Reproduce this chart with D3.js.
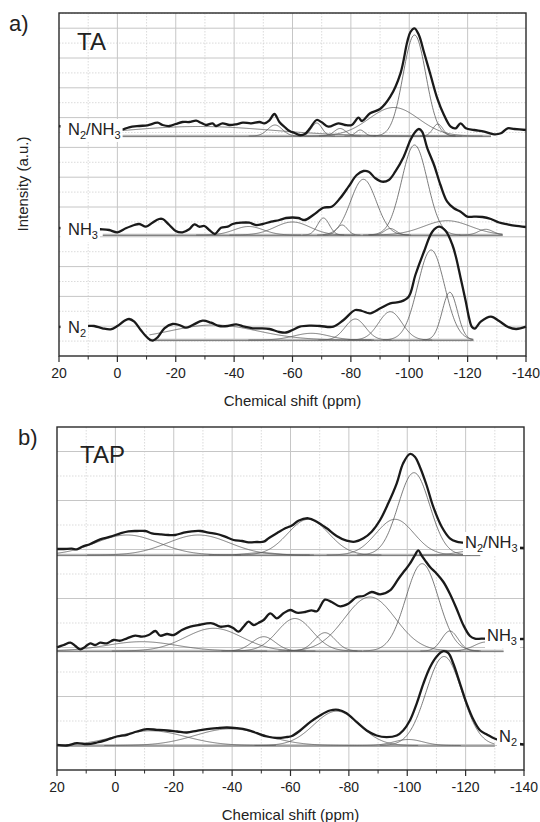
<!DOCTYPE html>
<html>
<head>
<meta charset="utf-8">
<script src="https://cdn.jsdelivr.net/npm/d3@7"></script>
<style>
  body { margin: 0; background: #fff; }
  svg text { font-family: "Liberation Sans", Arial, sans-serif; fill: #222; }
</style>
</head>
<body>
<div id="chart"></div>
<script>
// ---- measured spectra, [chemical shift (ppm), intensity (a.u.)] above each baseline
const taN2NH3Exp = [[20,10],[16,8],[12,7],[8,7],[4,7],[0,7],[-2,6.7],[-4,8.7],[-7.5,10],[-10.3,10.7],[-13.8,13.3],[-15.5,11],[-17.8,10],[-20,12],[-22.3,14],[-24.6,14],[-27,15.3],[-28.6,13.3],[-30.4,11],[-32.6,12.7],[-33.8,10],[-36,12.7],[-38.4,11],[-40.7,11.7],[-43,13.3],[-45.8,12.7],[-48.7,14],[-50.4,12.7],[-52,15.3],[-53.8,22],[-55.5,14],[-57.3,9],[-59,5],[-60.7,3],[-62.5,1],[-64.2,2],[-66,7.7],[-68.3,16],[-70,13.7],[-72.3,9.3],[-75.7,12.7],[-78,11],[-80.3,11],[-82.6,18.3],[-83.8,15],[-86.6,22.7],[-90,27],[-93.5,39.3],[-97,62.7],[-99.3,94],[-100.4,104],[-101.8,107.7],[-103.3,101],[-105,84.3],[-107.3,61],[-109.6,37.7],[-111.9,21],[-114.2,9.3],[-115.9,7.7],[-117.6,12.7],[-119.4,7.7],[-122.2,6],[-125.7,4.3],[-129.1,1.7],[-131.4,2.7],[-133.7,7.7],[-136,7],[-140,6]];
const taNH3Exp = [[20,7],[15,6],[10,5.5],[5.1,5.7],[2.8,5],[0,2.7],[-2.9,6.7],[-5.8,10],[-7.5,11],[-9.8,8.3],[-12,12.3],[-14.3,16],[-15.5,16],[-17.8,10],[-20,4],[-22.3,2.7],[-24.6,5.7],[-26.4,10.7],[-28,8.3],[-29.8,9],[-31.5,5],[-33.4,1],[-35.5,7.3],[-37.8,8.3],[-39.5,11],[-42.4,12.3],[-45.2,12.3],[-47.5,10],[-49.8,11],[-52.7,13.3],[-55.5,15],[-57.8,17],[-60.1,17.5],[-62,17],[-64.2,15],[-67.1,20],[-70.6,27.3],[-73.4,28.3],[-76.3,36.7],[-79.2,48.3],[-82,60],[-84.3,64],[-86.1,63.3],[-88.4,56.7],[-90.7,53.3],[-93,55],[-95.2,63.3],[-98.1,78.3],[-100.4,95],[-102.1,103.3],[-103.3,106],[-104.4,103.3],[-106.2,86.7],[-108.5,70],[-110.7,50],[-113,33.3],[-115.3,26.7],[-117.6,23.3],[-119.9,18.3],[-122.2,18.3],[-125.1,18],[-128,16],[-130.8,12.5],[-133.7,10.7],[-136,9.3],[-140,8]];
const taN2Exp = [[20,13],[15,14],[10.3,14],[8,14],[5.1,11.7],[2.3,10.7],[0,14],[-2.3,19],[-4,21],[-5.8,18.3],[-8,10],[-10.3,2.3],[-12,-0.7],[-13.8,2.7],[-16.1,11.7],[-18.9,16],[-21.2,15],[-23.5,12.3],[-25.8,15],[-29.2,19.3],[-32.1,17.3],[-34.9,14],[-37.8,14],[-40.7,15.7],[-43.5,13.3],[-46.4,11.7],[-49.2,11.7],[-52.1,11],[-55.5,8],[-57.8,7.5],[-60,10],[-62.5,13.3],[-66,14.3],[-69.4,14],[-74,13.3],[-77.5,20],[-81.5,30],[-83.8,29],[-86.6,26.7],[-90.1,31.7],[-93.5,36.7],[-97,38.3],[-99.8,43.3],[-102.1,65],[-105,88],[-107.9,108.3],[-110.2,113.3],[-112.5,109],[-114.8,95],[-116,83],[-117.6,62],[-119.4,38],[-120.5,22],[-121.5,13],[-122.5,11.5],[-124.5,18.3],[-128,23.3],[-130.8,19],[-133.7,13.3],[-136.6,11],[-140,13.3]];

const tapN2NH3Exp = [[20,6],[17.7,6],[14.9,6.3],[13.2,5.7],[11.4,8.3],[8.6,11],[5.2,15.7],[1.7,18.3],[-1.7,21.7],[-4.5,23.7],[-7.4,24],[-10.3,24],[-12.5,21.7],[-15.4,20.7],[-18.2,20],[-20.5,20],[-23.4,22.3],[-26.2,23.7],[-29.1,24],[-31.9,22.3],[-34.8,21],[-37.6,18.3],[-40.5,15],[-43.4,14],[-45.6,12.7],[-48.5,13],[-50.8,13.3],[-52.5,16.7],[-55.3,21.7],[-58.2,26.7],[-60.5,29.5],[-62.7,34.3],[-66.1,36.7],[-69,33.3],[-72.4,26.7],[-75.8,19],[-79.2,14.3],[-82.1,13.3],[-85,16.7],[-87.8,23.3],[-90.7,35],[-93.5,51.7],[-96.4,71.7],[-98.6,91.7],[-100.9,101],[-102.6,98.3],[-104.3,88.3],[-106.6,70],[-108.9,48.3],[-111.8,28.3],[-114.6,16.7],[-116.9,13.3],[-119.2,12.3],[-125,10],[-132,8],[-140,7]];
const tapNH3Exp = [[20,3.7],[17.7,6],[15.4,8.3],[13.7,5],[12,1.7],[10.3,4.3],[8.6,7.7],[6.9,6],[5.2,8.3],[2.9,7.7],[0.6,11],[-1.7,10.3],[-4,12.7],[-6.8,15.3],[-9.1,14.3],[-11.4,16],[-13.7,20],[-15.4,15.3],[-17.7,17],[-20,16],[-22.8,21],[-25.7,24.3],[-28.5,26],[-33.1,27.7],[-35.9,24.3],[-38.8,25],[-40.5,22.7],[-42.2,19.3],[-43.9,24.3],[-45.6,29.3],[-47.4,26],[-49.1,28.3],[-50.8,31],[-53.1,37.7],[-55.3,32.7],[-57.6,37.7],[-59.9,41],[-62.1,38.3],[-65,39],[-67.2,40.7],[-69,39.7],[-71.8,51.3],[-74.1,49],[-77,44.7],[-79.8,47.3],[-82.7,54],[-85,55],[-87.8,59],[-90.7,56.7],[-94.1,60.7],[-97,72.3],[-99.2,80.7],[-100.9,87.3],[-102.6,95.7],[-103.8,100.7],[-104.9,95.7],[-106.1,90.7],[-107.8,84],[-110.1,77.3],[-112.4,69],[-114.6,57.3],[-116.9,42.3],[-119.2,26],[-121.5,15],[-123.2,12.3],[-125.5,12.3],[-132,12],[-140,12]];
const tapN2Exp = [[20,0.7],[16.6,0],[13.2,2.3],[9.7,1.3],[6.3,3],[2.9,5.7],[-0.5,9],[-4,10.7],[-7.4,14],[-10.8,16.3],[-14.2,15.7],[-17.7,15],[-21.1,14],[-24.5,13],[-27.9,14.7],[-31.4,16.3],[-34.8,17.3],[-38.2,18],[-41.6,17.3],[-45.1,15.7],[-48.5,12.3],[-51.9,9],[-55.3,7.5],[-58.8,8.5],[-60.5,9.5],[-63.3,15],[-66.7,23.3],[-70.1,30],[-73.5,35],[-76.4,35.7],[-79.2,32.3],[-82.7,23.3],[-86.1,15],[-89.5,10],[-92.9,8.3],[-96.4,10],[-98.6,15],[-100.9,25],[-103.2,41.7],[-105.5,61.7],[-107.8,78.3],[-110.1,89],[-112.4,94.3],[-114.1,92.3],[-115.8,81.7],[-118.1,61.7],[-120.4,41.7],[-122.7,25.7],[-125,15],[-127.3,11],[-130.1,6.7],[-135,3],[-140,1]];

// ---- fitted components, [centre (ppm), height (a.u.), sigma (ppm)]
const taN2NH3Fit = [[-28,9.5,25],[-54,11,2.5],[-68.3,13,1.8],[-76.3,7.5,2],[-83.2,6,1.5],[-94.7,28.5,8.5],[-101.8,101,3.9],[-109.8,12,1.7]];
const taNH3Fit = [[-45,8.5,5],[-60,13,6],[-70.6,17,2],[-77,10,1.8],[-84.3,55.7,4.4],[-93.5,6.5,2],[-101.8,90,4.4],[-113,14.3,8],[-126.2,5.7,2.5]];
const taN2Fit = [[-33,15,15],[-66.5,6.7,6],[-81.5,21,3.5],[-93.5,28.3,4],[-107.5,90,4.6],[-113.9,47.7,2.6]];
const tapN2NH3Fit = [[-4,20,10.9],[-28.5,20,10.6],[-50,2.3,5],[-66.1,35.7,7],[-95.8,35.7,6.5],[-102.3,82.3,5.4],[-122,4,5]];
const tapNH3Fit = [[-9,9.3,12],[-33.7,22.7,9.7],[-50.8,14.3,4],[-61.5,32.5,6],[-71.8,18.3,3.6],[-87.2,54,8.7],[-105.1,87.3,5.6],[-114.6,20,2.8],[-127,9,4]];
const tapN2Fit = [[-12,14.7,12],[-39.4,16.7,12],[-75.8,34.3,7.8],[-100.4,6,5],[-112.6,89,6.1]];

// ---- fit range (ppm) of each baseline
const taRanges = [[0,-128],[5,-132],[-11,-122]];
const tapRanges = [[20,-125],[20,-133],[20,-130]];

// ---- labels / ticks
const xTicks = [20, 0, -20, -40, -60, -80, -100, -120, -140];
const seriesLabels = [["N", "2", "/NH", "3"], ["NH", "3"], ["N", "2"]];
const panelTitles = ["TA", "TAP"];
const panelLetters = ["a)", "b)"];

const W = 540, H = 822;
const svg = d3.select("#chart").append("svg").attr("width", W).attr("height", H);

function gauss(p, ppm) {
  const [c, h, s] = p;
  return h * Math.exp(-((ppm - c) ** 2) / (2 * s * s));
}

function drawPanel(cfg) {
  const x = d3.scaleLinear().domain([20, -140]).range([cfg.left, cfg.right]);
  const y = d3.scaleLinear().domain([0, cfg.bottom - cfg.top]).range([cfg.bottom, cfg.top]);
  const g = svg.append("g");

  // grid
  const vminor = d3.range(-130, 20, 20), vmajor = d3.range(-120, 20, 20);
  g.selectAll(".vmin").data(vminor).join("line")
    .attr("x1", d => x(d)).attr("x2", d => x(d)).attr("y1", cfg.top).attr("y2", cfg.bottom)
    .attr("stroke", "#d2d2d2").attr("stroke-width", 0.8).attr("stroke-dasharray", "1.5,1.5");
  g.selectAll(".vmaj").data(vmajor).join("line")
    .attr("x1", d => x(d)).attr("x2", d => x(d)).attr("y1", cfg.top).attr("y2", cfg.bottom)
    .attr("stroke", "#c6c6c6").attr("stroke-width", 1);
  g.selectAll(".hmin").data(cfg.hMinor).join("line")
    .attr("x1", cfg.left).attr("x2", cfg.right).attr("y1", d => y(d)).attr("y2", d => y(d))
    .attr("stroke", "#d2d2d2").attr("stroke-width", 0.8).attr("stroke-dasharray", "1.5,1.5");
  g.selectAll(".hmaj").data(cfg.hMajor).join("line")
    .attr("x1", cfg.left).attr("x2", cfg.right).attr("y1", d => y(d)).attr("y2", d => y(d))
    .attr("stroke", "#c6c6c6").attr("stroke-width", 1);

  const line = d3.line().x(d => x(d[0])).curve(d3.curveCatmullRom.alpha(0.5));

  cfg.series.forEach(s => {
    const off = s.offset;
    const [from, to] = s.range;
    // baseline: grey band + thin line
    g.append("line")
      .attr("x1", x(from)).attr("x2", x(to)).attr("y1", y(off)).attr("y2", y(off))
      .attr("stroke", "#b8b8b8").attr("stroke-width", 2.6);
    g.append("line")
      .attr("x1", x(from)).attr("x2", x(to)).attr("y1", y(off) + 0.5).attr("y2", y(off) + 0.5)
      .attr("stroke", "#6a6a6a").attr("stroke-width", 0.7);
    // components, drawn only where they lift off the baseline
    s.fit.forEach(p => {
      const lo = Math.max(to, p[0] - 3.6 * p[2]);
      const hi = Math.min(from, p[0] + 3.6 * p[2]);
      const pts = d3.range(hi, lo - 0.01, -0.25).map(ppm => [ppm, gauss(p, ppm)]);
      g.append("path")
        .datum(pts)
        .attr("d", line.y(d => y(d[1] + off)))
        .attr("fill", "none").attr("stroke", "#5a5a5a").attr("stroke-width", 0.8);
    });
    // experimental spectrum
    g.append("path")
      .datum(s.exp)
      .attr("d", line.y(d => y(d[1] + off)))
      .attr("fill", "none").attr("stroke", "#1a1a1a").attr("stroke-width", 2.3)
      .attr("stroke-linejoin", "round");
  });

  // frame
  g.append("rect").attr("x", cfg.left).attr("y", cfg.top)
    .attr("width", cfg.right - cfg.left).attr("height", cfg.bottom - cfg.top)
    .attr("fill", "none").attr("stroke", "#2a2a2a").attr("stroke-width", 1.4);

  // x axis ticks
  g.selectAll(".tkmin").data(d3.range(10, -140, -20)).join("line")
    .attr("x1", d => x(d)).attr("x2", d => x(d)).attr("y1", cfg.bottom).attr("y2", cfg.bottom + 3.5)
    .attr("stroke", "#2a2a2a").attr("stroke-width", 1);
  g.selectAll(".tkmaj").data(xTicks).join("line")
    .attr("x1", d => x(d)).attr("x2", d => x(d)).attr("y1", cfg.bottom).attr("y2", cfg.bottom + 6)
    .attr("stroke", "#2a2a2a").attr("stroke-width", 1.2);
  g.selectAll(".tl").data(xTicks).join("text")
    .attr("x", d => x(d)).attr("y", cfg.bottom + 22).attr("text-anchor", "middle")
    .attr("font-size", 14).text(d => d);
  g.append("text").attr("x", (cfg.left + cfg.right) / 2).attr("y", cfg.bottom + 50)
    .attr("text-anchor", "middle").attr("font-size", 15).text("Chemical shift (ppm)");

  // series labels on white boxes
  cfg.series.forEach((s, i) => {
    const lg = g.append("g");
    const t = lg.append("text").attr("x", s.lx).attr("y", s.ly).attr("font-size", 16.5);
    seriesLabels[i].forEach((part, k) => {
      const sub = k % 2 === 1;
      t.append("tspan").text(part)
        .attr("font-size", sub ? 11 : 16.5)
        .attr("dy", k === 0 ? 0 : (sub ? 4 : -4));
    });
    const b = t.node().getBBox();
    const x0 = cfg.labelsLeft ? cfg.left + 1.5 : b.x - 2;
    const x1 = cfg.labelsLeft ? b.x + b.width + 2 : cfg.right - 4;
    lg.insert("rect", "text")
      .attr("x", x0).attr("width", x1 - x0)
      .attr("y", b.y - 1).attr("height", b.height + 2).attr("fill", "#fff");
  });

  g.append("text").attr("x", cfg.titleX).attr("y", cfg.titleY).attr("font-size", 24).text(cfg.title);
  g.append("text").attr("x", cfg.letterX).attr("y", cfg.letterY).attr("font-size", 22).text(cfg.letter);
  return { x, y };
}

drawPanel({
  left: 59, right: 526, top: 13, bottom: 356, labelsLeft: true,
  hMajor: d3.range(29.8, 340, 29.8), hMinor: d3.range(14.9, 343, 29.8),
  title: panelTitles[0], titleX: 77, titleY: 50, letter: panelLetters[0], letterX: 9, letterY: 31,
  series: [
    { exp: taN2NH3Exp, fit: taN2NH3Fit, range: taRanges[0], offset: 220, lx: 68, ly: 135 },
    { exp: taNH3Exp, fit: taNH3Fit, range: taRanges[1], offset: 121, lx: 68, ly: 235 },
    { exp: taN2Exp, fit: taN2Fit, range: taRanges[2], offset: 16, lx: 68, ly: 333 }
  ]
});

drawPanel({
  left: 57, right: 524, top: 427, bottom: 770, labelsLeft: false,
  hMajor: d3.range(24.5, 343, 49), hMinor: d3.range(49, 340, 49),
  title: panelTitles[1], titleX: 80, titleY: 463, letter: panelLetters[1], letterX: 18, letterY: 445,
  series: [
    { exp: tapN2NH3Exp, fit: tapN2NH3Fit, range: tapRanges[0], offset: 215, lx: 465, ly: 548 },
    { exp: tapNH3Exp, fit: tapNH3Fit, range: tapRanges[1], offset: 119, lx: 487, ly: 641 },
    { exp: tapN2Exp, fit: tapN2Fit, range: tapRanges[2], offset: 24.5, lx: 499, ly: 742 }
  ]
});

svg.append("text").attr("transform", "translate(28,184) rotate(-90)")
  .attr("text-anchor", "middle").attr("font-size", 15).text("Intensity (a.u.)");
</script>
</body>
</html>
